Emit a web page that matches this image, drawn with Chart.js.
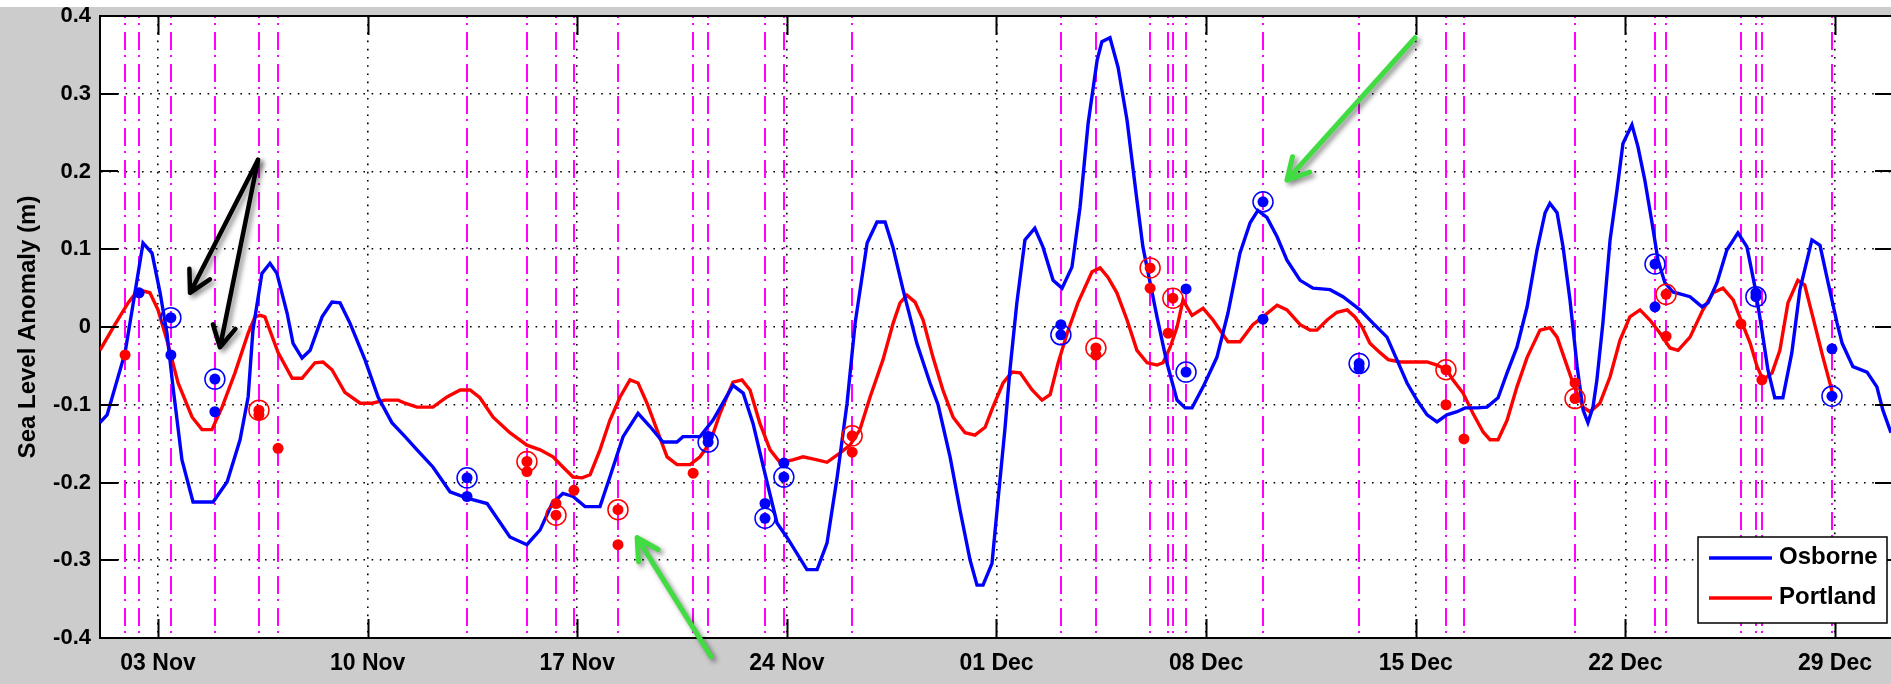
<!DOCTYPE html>
<html>
<head>
<meta charset="utf-8">
<title>Sea Level Anomaly – Osborne and Portland</title>
<script src="https://cdn.jsdelivr.net/npm/chart.js@4.4.1/dist/chart.umd.min.js"></script>
<style>
  html, body { margin: 0; padding: 0; background: #cccccc; overflow: hidden; }
  canvas { display: block; }
</style>
</head>
<body>
<canvas id="slaChart" width="1891" height="684"></canvas>
<script>
// Time is expressed in days since 1 Nov 00:00.
const tickDays = [2, 9, 16, 23, 30, 37, 44, 51, 58];
const tickLabels = ['03 Nov', '10 Nov', '17 Nov', '24 Nov', '01 Dec', '08 Dec', '15 Dec', '22 Dec', '29 Dec'];
const levelTicks = [-0.4, -0.3, -0.2, -0.1, 0, 0.1, 0.2, 0.3, 0.4];
const levelTickLabels = ['-0.4', '-0.3', '-0.2', '-0.1', '0', '0.1', '0.2', '0.3', '0.4'];

// Osborne sea level anomaly (m)
const osborneDays = [0.06,0.30,0.90,1.23,1.50,1.80,2.07,2.30,2.50,2.80,3.17,3.84,4.31,4.74,5.01,5.17,5.47,5.74,5.97,6.31,6.51,6.81,7.08,7.48,7.81,8.08,8.41,8.91,9.35,9.81,10.25,10.65,11.18,11.75,12.32,12.99,13.75,14.32,14.76,15.16,15.52,15.86,16.26,16.76,17.09,17.53,18.03,18.43,18.86,19.33,19.53,20.10,20.53,21.20,21.54,21.87,22.34,22.67,23.01,23.67,24.01,24.34,24.68,25.01,25.28,25.68,26.01,26.28,26.54,26.88,27.34,27.78,28.05,28.45,28.78,29.12,29.35,29.55,29.85,30.05,30.28,30.45,30.68,30.95,31.28,31.55,31.89,32.19,32.52,32.79,33.06,33.36,33.52,33.79,34.06,34.36,34.69,34.89,35.13,35.36,35.69,36.03,36.30,36.53,36.90,37.36,37.73,38.13,38.47,38.73,39.03,39.37,39.70,40.14,40.57,41.14,41.57,42.14,42.57,43.04,43.37,43.71,44.04,44.38,44.71,45.04,45.38,45.65,46.05,46.38,46.75,47.05,47.38,47.72,48.05,48.32,48.48,48.72,48.92,49.15,49.39,49.59,49.75,49.92,50.05,50.25,50.49,50.72,50.92,51.22,51.42,51.65,51.89,52.09,52.32,52.59,53.16,53.56,53.76,54.06,54.39,54.76,55.06,55.33,55.56,55.76,55.99,56.26,56.56,56.83,57.23,57.50,57.77,58.07,58.24,58.60,59.07,59.40,59.60,59.87];
const osborneLevel = [-0.123,-0.113,-0.033,0.044,0.108,0.095,0.044,-0.008,-0.077,-0.171,-0.225,-0.225,-0.199,-0.145,-0.090,-0.004,0.069,0.082,0.069,0.018,-0.021,-0.040,-0.030,0.013,0.032,0.031,0.005,-0.042,-0.090,-0.123,-0.141,-0.158,-0.180,-0.212,-0.220,-0.227,-0.270,-0.280,-0.261,-0.227,-0.214,-0.218,-0.231,-0.231,-0.193,-0.141,-0.111,-0.128,-0.148,-0.148,-0.141,-0.141,-0.120,-0.075,-0.085,-0.124,-0.200,-0.252,-0.271,-0.312,-0.312,-0.278,-0.193,-0.098,0.005,0.108,0.135,0.135,0.103,0.048,-0.021,-0.072,-0.100,-0.167,-0.235,-0.300,-0.332,-0.332,-0.304,-0.223,-0.132,-0.055,0.031,0.112,0.127,0.103,0.060,0.050,0.077,0.154,0.262,0.343,0.367,0.372,0.334,0.266,0.163,0.103,0.057,0.013,-0.046,-0.094,-0.104,-0.104,-0.077,-0.039,0.018,0.095,0.134,0.150,0.141,0.116,0.086,0.060,0.050,0.048,0.039,0.022,0.005,-0.013,-0.042,-0.072,-0.094,-0.113,-0.122,-0.113,-0.109,-0.104,-0.104,-0.103,-0.091,-0.059,-0.026,0.026,0.099,0.147,0.159,0.147,0.103,0.035,-0.051,-0.107,-0.123,-0.103,-0.068,0.005,0.112,0.176,0.236,0.260,0.232,0.189,0.134,0.086,0.057,0.045,0.039,0.026,0.031,0.057,0.099,0.121,0.103,0.051,-0.004,-0.055,-0.091,-0.091,-0.033,0.048,0.112,0.105,0.057,0.005,-0.021,-0.051,-0.058,-0.077,-0.107,-0.136];

// Portland sea level anomaly (m)
const portlandDays = [0.06,0.56,1.00,1.34,1.73,2.00,2.30,2.67,3.14,3.47,3.80,4.14,4.57,5.01,5.24,5.41,5.57,6.01,6.48,6.81,7.24,7.51,7.81,8.24,8.75,9.15,9.58,10.02,10.25,10.65,11.18,11.65,12.09,12.42,12.75,13.19,13.75,14.32,14.76,15.19,15.52,15.86,16.16,16.43,16.76,17.09,17.43,17.76,18.03,18.33,18.66,19.00,19.33,19.77,20.10,20.43,20.77,21.20,21.50,21.77,22.10,22.44,22.77,23.20,23.54,24.01,24.34,24.78,25.11,25.44,25.78,26.21,26.55,26.78,27.01,27.28,27.55,27.88,28.21,28.55,28.95,29.28,29.62,29.88,30.22,30.52,30.79,31.19,31.52,31.79,32.06,32.36,32.72,33.19,33.46,33.72,34.02,34.36,34.69,35.03,35.36,35.56,35.80,36.03,36.23,36.36,36.53,36.90,37.23,37.73,38.13,38.56,38.90,39.37,39.70,40.14,40.47,40.70,41.04,41.37,41.71,41.97,42.21,42.47,42.81,43.08,43.48,44.38,44.71,45.04,45.24,45.58,45.91,46.25,46.48,46.75,47.05,47.38,47.72,48.15,48.48,48.72,48.98,49.25,49.59,49.82,50.15,50.49,50.82,51.15,51.49,51.82,52.16,52.49,52.76,53.16,53.59,53.93,54.26,54.60,54.90,55.17,55.40,55.60,55.90,56.16,56.43,56.76,56.99,57.26,57.60,57.83,57.93];
const portlandLevel = [-0.030,0.003,0.031,0.048,0.044,0.022,-0.017,-0.072,-0.116,-0.132,-0.132,-0.103,-0.059,-0.008,0.013,0.015,0.013,-0.033,-0.066,-0.066,-0.046,-0.045,-0.055,-0.084,-0.098,-0.098,-0.094,-0.094,-0.098,-0.103,-0.103,-0.090,-0.081,-0.081,-0.091,-0.116,-0.136,-0.152,-0.158,-0.167,-0.180,-0.193,-0.194,-0.190,-0.158,-0.120,-0.090,-0.068,-0.072,-0.098,-0.132,-0.167,-0.177,-0.177,-0.167,-0.149,-0.111,-0.071,-0.068,-0.081,-0.124,-0.158,-0.174,-0.171,-0.167,-0.171,-0.174,-0.162,-0.152,-0.132,-0.090,-0.042,0.005,0.031,0.041,0.032,0.009,-0.039,-0.081,-0.116,-0.136,-0.139,-0.129,-0.103,-0.072,-0.058,-0.059,-0.081,-0.094,-0.087,-0.046,-0.008,0.031,0.071,0.076,0.064,0.044,0.009,-0.030,-0.046,-0.049,-0.046,-0.026,0.000,0.035,0.026,0.015,0.024,0.009,-0.019,-0.019,0.003,0.013,0.028,0.022,0.003,-0.004,-0.004,0.009,0.019,0.022,0.013,0.000,-0.021,-0.033,-0.042,-0.045,-0.045,-0.049,-0.055,-0.068,-0.085,-0.111,-0.135,-0.145,-0.145,-0.120,-0.077,-0.039,-0.004,-0.001,-0.013,-0.042,-0.072,-0.103,-0.109,-0.098,-0.064,-0.017,0.013,0.022,0.009,-0.008,-0.027,-0.030,-0.013,0.022,0.044,0.050,0.035,0.005,-0.021,-0.051,-0.068,-0.059,-0.030,0.031,0.060,0.054,0.013,-0.039,-0.072,-0.087];

// Point observations (filled dots) and highlighted observations (ringed)
const osborneDotDays = [1.37,2.43,2.43,3.90,3.90,12.32,12.32,20.37,20.37,22.27,22.27,22.90,22.90,32.15,32.15,36.33,36.33,38.90,38.90,42.11,42.11,51.99,51.99,55.36,55.36,57.90,57.90];
const osborneDotLevel = [0.044,0.012,-0.036,-0.067,-0.109,-0.194,-0.218,-0.148,-0.141,-0.246,-0.227,-0.193,-0.175,-0.010,0.003,-0.058,0.049,0.161,0.010,-0.047,-0.053,0.081,0.026,0.039,0.044,-0.089,-0.028];
const osborneRingDays = [2.43,3.90,12.32,20.37,22.27,22.90,32.15,36.33,38.90,42.11,51.99,55.36,57.90];
const osborneRingLevel = [0.012,-0.067,-0.194,-0.148,-0.246,-0.193,-0.010,-0.058,0.161,-0.047,0.081,0.039,-0.089];

const portlandDotDays = [0.90,5.37,5.37,6.01,14.32,14.32,15.29,15.29,15.89,17.36,17.36,19.87,25.18,25.18,33.32,33.32,35.13,35.13,35.73,35.89,45.01,45.01,45.61,49.32,49.32,52.36,52.36,54.86,55.56];
const portlandDotLevel = [-0.036,-0.107,-0.113,-0.156,-0.173,-0.186,-0.227,-0.242,-0.210,-0.235,-0.280,-0.188,-0.140,-0.161,-0.027,-0.036,0.076,0.050,-0.008,0.037,-0.055,-0.100,-0.144,-0.072,-0.092,0.042,-0.012,0.004,-0.068];
const portlandRingDays = [5.37,14.32,15.29,17.36,25.18,33.32,35.13,35.89,45.01,49.32,52.36];
const portlandRingLevel = [-0.107,-0.173,-0.242,-0.235,-0.140,-0.027,0.076,0.037,-0.055,-0.092,0.042];

// Event times marked by vertical dash-dot lines
const eventDays = [0.90,1.37,2.43,3.90,5.37,6.01,12.32,14.32,15.29,15.89,17.36,19.87,20.37,22.27,22.90,25.18,32.15,33.32,35.13,35.73,35.89,36.33,38.90,42.11,45.01,45.61,49.32,51.99,52.36,54.86,55.36,55.56,57.90];

// Pointer arrows, in (day, level) units
const pointerArrows = [
  { from: [5.34, 0.215], to: [3.07, 0.044], color: '#000000' },
  { from: [5.34, 0.215], to: [4.07, -0.026], color: '#000000' },
  { from: [43.98, 0.372], to: [39.70, 0.189], color: '#41dc41' },
  { from: [20.47, -0.424], to: [18.00, -0.271], color: '#41dc41' }
];

const BLUE = '#0000ff';
const RED = '#ff0000';
const FONT = "'Liberation Sans', Arial, Helvetica, sans-serif";

const pairs = (xs, ys) => xs.map((x, i) => ({ x, y: ys[i] }));

// Grey figure background, white axes background
const backdrop = {
  id: 'backdrop',
  beforeDraw(chart) {
    const { ctx, chartArea: a, width, height } = chart;
    ctx.save();
    ctx.fillStyle = '#cccccc';
    ctx.fillRect(0, 0, width, height);
    ctx.fillStyle = '#ffffff';
    ctx.fillRect(0, 0, width, 7);
    ctx.fillRect(a.left, a.top, a.right - a.left, a.bottom - a.top);
    ctx.restore();
  }
};

// Magenta dash-dot event lines
const eventLines = {
  id: 'eventLines',
  beforeDatasetsDraw(chart) {
    const { ctx, chartArea: a, scales: { x } } = chart;
    ctx.save();
    ctx.beginPath();
    ctx.rect(a.left, a.top, a.right - a.left, a.bottom - a.top);
    ctx.clip();
    ctx.strokeStyle = '#ff00ff';
    ctx.lineWidth = 2;
    ctx.setLineDash([18, 5, 2, 7]);
    ctx.lineDashOffset = 16;
    eventDays.forEach(d => {
      const px = Math.round(x.getPixelForValue(d));
      ctx.beginPath();
      ctx.moveTo(px, a.top);
      ctx.lineTo(px, a.bottom);
      ctx.stroke();
    });
    ctx.restore();
  }
};

// Box top edge and inward tick marks
const axisTicks = {
  id: 'axisTicks',
  afterDatasetsDraw(chart) {
    const { ctx, chartArea: a, scales: { x, y } } = chart;
    ctx.save();
    ctx.strokeStyle = '#000000';
    ctx.lineWidth = 2;
    ctx.beginPath();
    ctx.moveTo(a.left - 1, a.top);
    ctx.lineTo(a.right, a.top);
    tickDays.forEach(d => {
      const px = Math.round(x.getPixelForValue(d)) + 0.5;
      ctx.moveTo(px, a.bottom);
      ctx.lineTo(px, a.bottom - 19);
      ctx.moveTo(px, a.top);
      ctx.lineTo(px, a.top + 19);
    });
    levelTicks.forEach(v => {
      const py = Math.round(y.getPixelForValue(v));
      ctx.moveTo(a.left, py);
      ctx.lineTo(a.left + 18, py);
      ctx.moveTo(a.right, py);
      ctx.lineTo(a.right - 16, py);
    });
    ctx.stroke();
    ctx.restore();
  }
};

// Legend box with line samples for the two stations
const stationLegend = {
  id: 'stationLegend',
  afterDraw(chart) {
    const { ctx, chartArea: a } = chart;
    const entries = chart.data.datasets.filter(ds => ds.legendEntry);
    const w = 189, h = 86;
    const bx = a.right - 4 - w, by = a.bottom - 15 - h;
    ctx.save();
    ctx.fillStyle = '#ffffff';
    ctx.fillRect(bx, by, w, h);
    ctx.strokeStyle = '#000000';
    ctx.lineWidth = 1.5;
    ctx.strokeRect(bx, by, w, h);
    ctx.font = 'bold 24px ' + FONT;
    ctx.textBaseline = 'alphabetic';
    ctx.textAlign = 'left';
    entries.forEach((ds, i) => {
      const ly = by + 21 + i * 40;
      ctx.strokeStyle = ds.borderColor;
      ctx.lineWidth = 3.5;
      ctx.beginPath();
      ctx.moveTo(bx + 11, ly);
      ctx.lineTo(bx + 74, ly);
      ctx.stroke();
      ctx.fillStyle = '#000000';
      ctx.fillText(ds.label, bx + 81, ly + 6);
    });
    ctx.restore();
  }
};

// Annotation arrows with a soft drop shadow
const pointers = {
  id: 'pointers',
  afterDraw(chart) {
    const { ctx, scales: { x, y } } = chart;
    ctx.save();
    ctx.lineCap = 'round';
    ctx.lineJoin = 'round';
    ctx.shadowColor = 'rgba(0,0,0,0.45)';
    ctx.shadowBlur = 5;
    ctx.shadowOffsetX = 3;
    ctx.shadowOffsetY = 3;
    pointerArrows.forEach(p => {
      const x1 = x.getPixelForValue(p.from[0]), y1 = y.getPixelForValue(p.from[1]);
      const x2 = x.getPixelForValue(p.to[0]), y2 = y.getPixelForValue(p.to[1]);
      const ang = Math.atan2(y2 - y1, x2 - x1);
      const head = 24, spread = 0.5;
      ctx.strokeStyle = p.color;
      ctx.lineWidth = p.color === '#000000' ? 4.5 : 5;
      ctx.beginPath();
      ctx.moveTo(x1, y1);
      ctx.lineTo(x2, y2);
      ctx.moveTo(x2 - head * Math.cos(ang - spread), y2 - head * Math.sin(ang - spread));
      ctx.lineTo(x2, y2);
      ctx.lineTo(x2 - head * Math.cos(ang + spread), y2 - head * Math.sin(ang + spread));
      ctx.stroke();
    });
    ctx.restore();
  }
};

new Chart(document.getElementById('slaChart'), {
  type: 'line',
  data: {
    datasets: [
      { label: 'Osborne flagged', data: pairs(osborneRingDays, osborneRingLevel), showLine: false,
        pointRadius: 10, pointStyle: 'circle', pointBackgroundColor: 'rgba(0,0,0,0)',
        pointBorderColor: BLUE, pointBorderWidth: 1.5, order: 0 },
      { label: 'Osborne obs', data: pairs(osborneDotDays, osborneDotLevel), showLine: false,
        pointRadius: 5.5, pointBackgroundColor: BLUE, pointBorderWidth: 0, order: 1 },
      { label: 'Portland flagged', data: pairs(portlandRingDays, portlandRingLevel), showLine: false,
        pointRadius: 10, pointStyle: 'circle', pointBackgroundColor: 'rgba(0,0,0,0)',
        pointBorderColor: RED, pointBorderWidth: 1.5, order: 2 },
      { label: 'Portland obs', data: pairs(portlandDotDays, portlandDotLevel), showLine: false,
        pointRadius: 5.5, pointBackgroundColor: RED, pointBorderWidth: 0, order: 3 },
      { label: 'Osborne', legendEntry: true, data: pairs(osborneDays, osborneLevel),
        borderColor: BLUE, borderWidth: 3.4, pointRadius: 0, tension: 0, fill: false, order: 4 },
      { label: 'Portland', legendEntry: true, data: pairs(portlandDays, portlandLevel),
        borderColor: RED, borderWidth: 3.4, pointRadius: 0, tension: 0, fill: false, order: 5 }
    ]
  },
  options: {
    responsive: false,
    animation: false,
    devicePixelRatio: 1,
    events: [],
    layout: { autoPadding: false, padding: { top: 16, right: 0, bottom: 0, left: 0 } },
    plugins: {
      legend: { display: false },
      tooltip: { enabled: false }
    },
    scales: {
      x: {
        type: 'linear',
        min: 0.063,
        max: 59.871,
        afterBuildTicks: s => { s.ticks = tickDays.map(v => ({ value: v })); },
        afterFit: s => { s.height = 46; s.paddingLeft = 0; s.paddingRight = 0; },
        ticks: {
          autoSkip: false,
          maxRotation: 0,
          padding: 12,
          color: '#000000',
          font: { family: FONT, size: 23, weight: 'bold' },
          callback: (v, i) => tickLabels[i]
        },
        grid: { color: '#000000', lineWidth: 1.6, drawTicks: false },
        border: { display: true, color: '#000000', width: 2, dash: [1.6, 6.6] }
      },
      y: {
        type: 'linear',
        min: -0.4,
        max: 0.4,
        afterBuildTicks: s => { s.ticks = levelTicks.map(v => ({ value: v })); },
        afterFit: s => { s.width = 100; s.paddingTop = 0; s.paddingBottom = 0; },
        ticks: {
          padding: 9,
          color: '#000000',
          font: { family: FONT, size: 22, weight: 'bold' },
          callback: (v, i) => levelTickLabels[i]
        },
        grid: { color: '#000000', lineWidth: 1.6, drawTicks: false },
        border: { display: true, color: '#000000', width: 2, dash: [1.6, 6.6] },
        title: {
          display: true,
          text: 'Sea Level Anomaly (m)',
          color: '#000000',
          font: { family: FONT, size: 24, weight: 'bold' },
          padding: { top: 14, bottom: 0 }
        }
      }
    }
  },
  plugins: [backdrop, eventLines, axisTicks, stationLegend, pointers]
});
</script>
</body>
</html>
